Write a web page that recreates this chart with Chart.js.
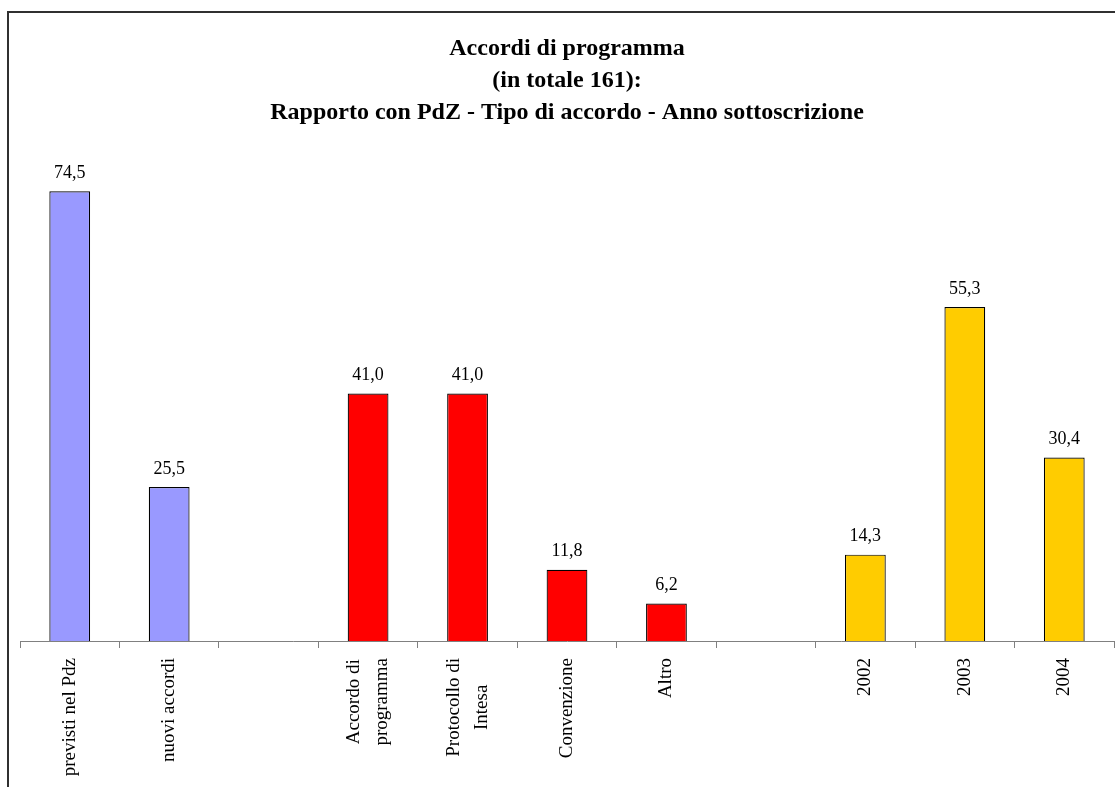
<!DOCTYPE html>
<html lang="it">
<head>
    <meta charset="UTF-8">
    <title>Accordi di programma</title>
    <script src="https://cdn.jsdelivr.net/npm/chart.js"></script>
    <style>
        html, body { margin: 0; padding: 0; background: #fff; }
        #wrap { position: relative; width: 1115px; height: 787px; }
    </style>
</head>
<body>
    <div id="wrap"><canvas id="chart" width="1115" height="787"></canvas></div>

    <script>
        // data (empty strings are the gaps between groups)
        const labels = [
            'previsti nel Pdz', 'nuovi accordi', '',
            ['Accordo di', 'programma'], ['Protocollo di', 'Intesa'], 'Convenzione', 'Altro', '',
            '2002', '2003', '2004'
        ];
        const values = [74.5, 25.5, null, 41.0, 41.0, 11.8, 6.2, null, 14.3, 55.3, 30.4];
        const barColors = [
            '#9999FF', '#9999FF', '#FFFFFF',
            '#FF0000', '#FF0000', '#FF0000', '#FF0000', '#FFFFFF',
            '#FFCC00', '#FFCC00', '#FFCC00'
        ];
        const titleLines = [
            'Accordi di programma',
            '(in totale 161):',
            'Rapporto con PdZ - Tipo di accordo - Anno sottoscrizione'
        ];

        const serif = '"Liberation Serif", "Times New Roman", serif';

        // value labels above each bar, with a decimal comma
        const valueLabels = {
            id: 'valueLabels',
            afterDatasetsDraw(chart) {
                const ctx = chart.ctx;
                const meta = chart.getDatasetMeta(0);
                ctx.save();
                ctx.font = '18px ' + serif;
                ctx.fillStyle = '#000';
                ctx.textAlign = 'center';
                ctx.textBaseline = 'bottom';
                meta.data.forEach((bar, i) => {
                    if (values[i] == null) return;
                    ctx.fillText(values[i].toFixed(1).replace('.', ','), bar.x, bar.y - 9);
                });
                ctx.restore();
            }
        };

        // vertical category labels, multi-line ones centred on the tick
        const catLabels = {
            id: 'catLabels',
            afterDraw(chart) {
                const ctx = chart.ctx;
                const xs = chart.scales.x;
                const top = xs.top + 17;
                const lh = 28;
                ctx.save();
                ctx.font = '19px ' + serif;
                ctx.fillStyle = '#000';
                ctx.textAlign = 'center';
                ctx.textBaseline = 'middle';
                labels.forEach((lab, i) => {
                    const lines = Array.isArray(lab) ? lab : [lab];
                    const maxW = Math.max(...lines.map(l => ctx.measureText(l).width));
                    ctx.save();
                    ctx.translate(xs.getPixelForTick(i), top);
                    ctx.rotate(-Math.PI / 2);
                    lines.forEach((l, j) => {
                        ctx.fillText(l, -maxW / 2, (j - (lines.length - 1) / 2) * lh);
                    });
                    ctx.restore();
                });
                ctx.restore();
            }
        };

        // the frame round the chart
        const frame = {
            id: 'frame',
            afterDraw(chart) {
                const ctx = chart.ctx;
                ctx.save();
                ctx.strokeStyle = '#303030';
                ctx.lineWidth = 2;
                ctx.strokeRect(8, 12, 1200, 900);
                ctx.restore();
            }
        };

        new Chart(document.getElementById('chart'), {
            type: 'bar',
            data: {
                labels: labels,
                datasets: [{
                    data: values,
                    backgroundColor: barColors,
                    borderColor: '#000',
                    borderWidth: 1.2,
                    categoryPercentage: 1,
                    barPercentage: 0.41
                }]
            },
            options: {
                responsive: false,
                animation: false,
                layout: { padding: { left: 20, right: 1, top: 0, bottom: 0 } },
                plugins: {
                    legend: { display: false },
                    tooltip: { enabled: false },
                    title: {
                        display: true,
                        text: titleLines,
                        color: '#000',
                        font: { family: serif, size: 24, weight: 'bold', lineHeight: 1.333 },
                        padding: { top: 33, bottom: 29 }
                    }
                },
                scales: {
                    x: {
                        afterFit(scale) { scale.height = 146; },
                        grid: {
                            drawOnChartArea: false,
                            drawTicks: true,
                            tickLength: 7,
                            color: '#808080'
                        },
                        border: { color: '#808080', width: 1 },
                        ticks: { display: false, autoSkip: false }
                    },
                    y: {
                        display: false,
                        min: 0,
                        max: 80
                    }
                }
            },
            plugins: [valueLabels, catLabels, frame]
        });
    </script>
</body>
</html>
